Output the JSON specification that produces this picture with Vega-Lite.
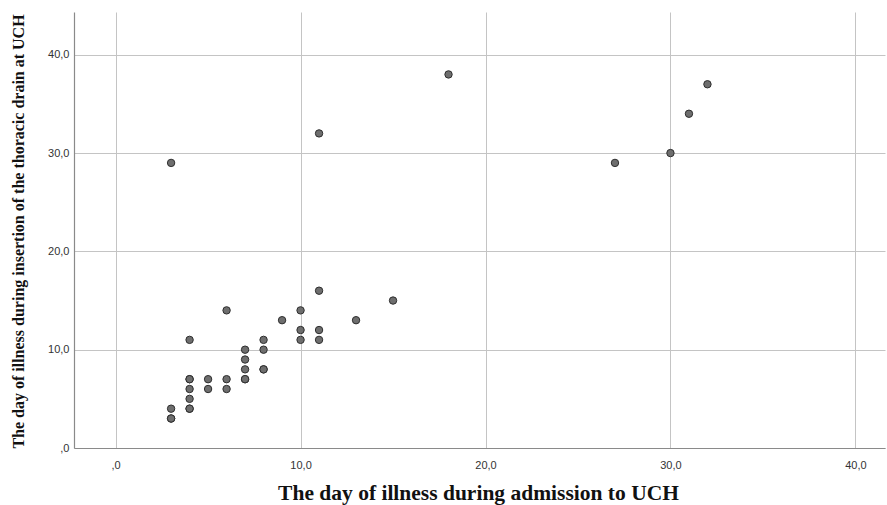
{
  "$schema": "https://vega.github.io/schema/vega-lite/v6.json",
  "autosize": {"type": "none"},
  "width": 811,
  "height": 436,
  "padding": {"left": 74, "top": 12, "right": 2, "bottom": 57},
  "background": "white",
  "config": {
    "view": {"stroke": null},
    "axis": {
      "gridColor": "#c4c4c4",
      "gridWidth": 1,
      "domainColor": "#8a8a8a",
      "domainWidth": 1.2,
      "ticks": false,
      "labelFont": "Liberation Sans",
      "labelFontSize": 11,
      "labelColor": "#333333",
      "titleFont": "Liberation Serif",
      "titleFontWeight": "bold",
      "titleColor": "#111111"
    }
  },
  "data": {
    "values": [
      {"admission": 3, "insertion": 3},
      {"admission": 3, "insertion": 3},
      {"admission": 3, "insertion": 4},
      {"admission": 3, "insertion": 29},
      {"admission": 4, "insertion": 4},
      {"admission": 4, "insertion": 4},
      {"admission": 4, "insertion": 5},
      {"admission": 4, "insertion": 6},
      {"admission": 4, "insertion": 7},
      {"admission": 4, "insertion": 7},
      {"admission": 4, "insertion": 11},
      {"admission": 5, "insertion": 6},
      {"admission": 5, "insertion": 7},
      {"admission": 6, "insertion": 6},
      {"admission": 6, "insertion": 7},
      {"admission": 6, "insertion": 14},
      {"admission": 7, "insertion": 7},
      {"admission": 7, "insertion": 7},
      {"admission": 7, "insertion": 8},
      {"admission": 7, "insertion": 9},
      {"admission": 7, "insertion": 10},
      {"admission": 8, "insertion": 8},
      {"admission": 8, "insertion": 8},
      {"admission": 8, "insertion": 10},
      {"admission": 8, "insertion": 11},
      {"admission": 9, "insertion": 13},
      {"admission": 10, "insertion": 11},
      {"admission": 10, "insertion": 12},
      {"admission": 10, "insertion": 14},
      {"admission": 11, "insertion": 11},
      {"admission": 11, "insertion": 12},
      {"admission": 11, "insertion": 16},
      {"admission": 11, "insertion": 32},
      {"admission": 13, "insertion": 13},
      {"admission": 15, "insertion": 15},
      {"admission": 18, "insertion": 38},
      {"admission": 27, "insertion": 29},
      {"admission": 30, "insertion": 30},
      {"admission": 31, "insertion": 34},
      {"admission": 32, "insertion": 37}
    ]
  },
  "mark": {"type": "point", "shape": "circle", "filled": true, "fill": "#6e6e6e", "stroke": "#2e2e2e", "strokeWidth": 1, "size": 55, "opacity": 1, "fillOpacity": 1},
  "encoding": {
    "x": {
      "field": "admission",
      "type": "quantitative",
      "scale": {"domain": [-2.25, 41.6], "nice": false, "zero": false},
      "axis": {
        "title": "The day of illness during admission to UCH",
        "titleFontSize": 21.5,
        "titleX": 404,
        "titleY": 45,
        "titleBaseline": "middle",
        "titleAnchor": null,
        "values": [0, 10, 20, 30, 40],
        "labelPadding": 11,
        "labelExpr": "datum.value == 0 ? ',0' : replace(format(datum.value, '.1f'), '.', ',')"
      }
    },
    "y": {
      "field": "insertion",
      "type": "quantitative",
      "scale": {"domain": [0, 44.35], "nice": false},
      "axis": {
        "title": "The day of illness during insertion of the thoracic drain at UCH",
        "titleFontSize": 16,
        "titleX": -56,
        "titleY": 219,
        "titleBaseline": "middle",
        "titleAngle": -90,
        "values": [0, 10, 20, 30, 40],
        "labelPadding": 5,
        "labelExpr": "datum.value == 0 ? ',0' : replace(format(datum.value, '.1f'), '.', ',')"
      }
    }
  }
}
